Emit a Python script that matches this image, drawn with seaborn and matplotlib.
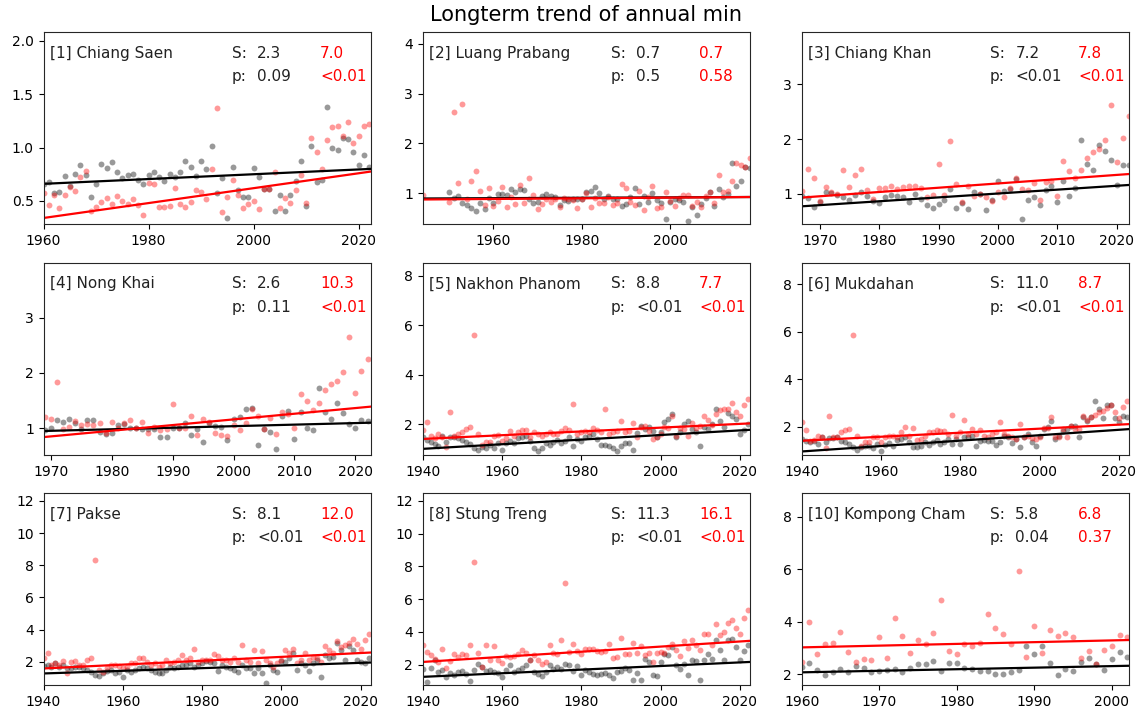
import pandas as pd
import matplotlib.pyplot as plt
from matplotlib.ticker import MultipleLocator
import seaborn as sns

# --- Datos (mínimo anual por estación) ---
# negro = serie gris, rojo = serie roja

# [1] Chiang Saen
cs_years = list(range(1960, 2023))
cs_black = [0.66, 0.68, 0.57, 0.58, 0.73, 0.64, 0.75, 0.84, 0.74, 0.54,
            0.66, 0.85, 0.81, 0.86, 0.77, 0.71, 0.74, 0.75, 0.70, 0.66,
            0.74, 0.77, 0.72, 0.69, 0.75, 0.72, 0.77, 0.87, 0.82, 0.73,
            0.87, 0.80, 1.01, 0.57, 0.71, 0.34, 0.82, 0.60, 0.54, 0.54,
            0.81, 0.72, 0.61, 0.61, 0.41, 0.56, 0.41, 0.56, 0.69, 0.87,
            0.45, 1.01, 0.68, 0.70, 1.38, 1.00, 0.98, 1.09, 1.08, 0.96,
            0.84, 0.93, 0.82]
cs_red = [0.57, 0.46, 0.56, 0.43, 0.56, 0.63, 0.59, 0.72, 0.78, 0.41,
          0.44, 0.49, 0.53, 0.47, 0.55, 0.50, 0.47, 0.52, 0.46, 0.37,
          0.67, 0.66, 0.44, 0.44, 0.45, 0.62, 0.47, 0.44, 0.49, 0.60,
          0.58, 0.52, 0.80, 1.37, 0.40, 0.54, 0.70, 0.56, 0.43, 0.47,
          0.50, 0.42, 0.61, 0.61, 0.77, 0.43, 0.53, 0.48, 0.60, 0.74,
          0.48, 1.09, 0.96, 0.80, 1.07, 1.19, 1.20, 1.11, 1.24, 1.04,
          1.11, 1.20, 1.22]

# [2] Luang Prabang
lp_years = [1944] + list(range(1950, 2019))
lp_black = [None,
            1.03, 0.91, 0.94, 0.79, 0.75, 0.69, 0.64, 0.80, 0.68, 0.91,
            0.79, 0.99, 0.99, 0.96, 1.09, 1.03, 1.09, 1.07, 0.89, 0.79,
            0.81, 0.95, 0.99, 0.95, 0.93, 0.75, 0.85, 0.84, 0.87, 0.87,
            0.89, 1.02, 1.04, 1.12, 1.00, 0.89, 0.94, 0.88, 0.88, 0.74,
            0.77, 0.93, 1.10, 0.77, 0.94, 0.81, 1.00, 0.86, 0.80, 0.48,
            0.81, 0.87, 0.85, 0.81, 0.44, 0.72, 0.55, 0.77, 0.91, 1.02,
            0.73, 1.09, 0.93, 0.99, 1.60, 1.15, 1.25, 1.52, 1.50]
lp_red = [0.97,
          0.82, 2.63, 1.21, 2.79, 0.89, 1.24, 1.45, 1.04, 0.75, 1.10,
          0.73, 0.84, 1.12, 0.71, 0.93, 0.77, 1.17, 0.79, 1.30, 0.97,
          0.67, 0.77, 0.89, 0.81, 0.87, 0.72, 0.90, 0.87, 0.85, 0.70,
          0.89, 1.00, 0.71, 0.90, 0.79, 0.80, 0.93, 0.75, 0.79, 1.19,
          1.11, 0.81, 0.75, 1.05, 0.65, 0.92, 1.14, 0.69, 0.72, 1.03,
          0.84, 0.73, 0.90, 0.97, 0.97, 0.73, 0.82, 0.71, 0.94, 1.02,
          0.79, 1.37, 1.02, 1.04, 1.24, 1.60, 1.56, 1.52, 1.70]

# [3] Chiang Khan
ck_years = list(range(1967, 2023))
ck_black = [0.95, 0.92, 0.76,
            0.85, 1.04, 1.01, 0.97, 0.94, 0.89, 0.97, 1.03, 0.95, 0.87,
            0.83, 0.94, 0.98, 0.96, 0.94, 0.85, 0.99, 0.90, 0.79, 0.74,
            0.82, 0.89, 1.09, 0.74, 0.83, 0.73, 1.04, 0.99, 0.71, 0.89,
            1.24, 1.05, 1.09, 1.27, 0.53, 0.89, 0.94, 0.80, 1.06, 1.15,
            0.84, 1.23, 0.96, 1.10, 1.98, 1.55, 1.44, 1.90, 1.79, 1.61,
            1.16, 1.52, 1.53]
ck_red = [1.05, 1.45, 1.29,
          0.87, 1.12, 1.03, 1.00, 1.43, 1.13, 1.34, 1.46, 1.06, 0.91,
          1.10, 1.10, 1.15, 1.08, 1.13, 1.15, 1.15, 1.10, 0.94, 0.97,
          1.54, 0.97, 1.96, 1.18, 0.85, 1.15, 0.95, 1.00, 0.94, 0.86,
          1.03, 0.94, 1.11, 1.29, 1.09, 1.06, 1.20, 0.89, 1.21, 1.23,
          0.96, 1.59, 1.41, 1.29, 1.44, 1.66, 1.77, 1.82, 1.98, 2.62,
          1.58, 2.02, 2.42]

# [4] Nong Khai
nk_years = list(range(1969, 2023))
nk_black = [0.97,
            1.00, 1.14, 1.12, 1.17, 1.09, 0.98, 1.14, 1.14, 0.94, 0.90,
            0.91, 1.06, 1.08, 1.00, 1.00, 0.98, 0.98, 0.98, 0.84, 0.84,
            1.01, 1.00, 1.10, 0.88, 0.98, 0.75, 1.09, 1.04, 1.03, 0.78,
            1.16, 1.21, 1.34, 1.36, 0.69, 0.98, 0.93, 0.62, 1.22, 1.31,
            0.81, 1.30, 1.01, 0.96, 1.73, 1.30, 1.16, 1.46, 1.27, 1.08,
            1.00, 1.14, 1.13]
nk_red = [1.21,
          1.17, 1.84, 0.99, 1.02, 1.13, 1.05, 1.07, 1.05, 1.10, 0.92,
          1.12, 1.00, 1.09, 1.15, 1.00, 1.12, 0.91, 1.03, 0.97, 0.99,
          1.43, 1.00, 1.00, 1.22, 0.87, 1.17, 1.12, 0.91, 0.87, 0.86,
          1.06, 0.96, 1.10, 1.34, 1.23, 0.99, 1.19, 0.90, 1.30, 1.25,
          1.01, 1.61, 1.49, 1.33, 1.46, 1.69, 1.80, 1.86, 2.02, 2.64,
          1.64, 2.04, 2.25]

# [5] Nakhon Phanom
np_years = list(range(1940, 2023))
np_black = [1.47, 1.36, 1.27, 1.20, 1.13, 1.53, 1.27, 1.47, 1.49, 1.44,
            1.36, 1.29, 1.20, 1.04, 0.96, 1.09, 1.04, 1.16, 1.04, 1.23,
            0.96, 1.24, 1.33, 1.23, 1.43, 1.47, 1.53, 1.33, 1.04, 0.93,
            1.04, 1.24, 1.16, 1.27, 1.36, 1.23, 1.33, 1.47, 1.13, 1.40,
            1.33, 1.47, 1.53, 1.60, 1.40, 1.16, 1.16, 1.13, 1.04, 0.93,
            1.11, 1.23, 1.23, 0.96, 1.63, 1.93, 1.80, 1.89, 1.73, 1.47,
            1.67, 2.07, 2.20, 2.40, 1.49, 1.67, 2.00, 2.11, 1.80, 1.67,
            1.13, 1.87, 1.80, 2.00, 2.60, 2.13, 1.87, 2.47, 2.33, 2.20,
            1.60, 1.76, 2.00]
np_red = [1.77, 2.07, 1.53, 1.43, 1.60, 1.47, 1.07, 2.51, 1.53, 1.60,
          1.69, 1.80, 1.89, 5.60, 1.60, 1.16, 1.27, 1.27, 1.53, 1.56,
          1.33, 1.43, 1.71, 1.53, 1.69, 1.77, 1.77, 1.47, 1.67, 1.60,
          1.53, 1.60, 1.67, 1.60, 1.60, 1.73, 1.84, 1.76, 2.83, 1.60,
          1.67, 1.71, 1.67, 1.84, 1.76, 1.67, 2.63, 1.60, 1.69, 1.73,
          2.13, 1.67, 1.73, 2.03, 1.47, 1.87, 1.93, 1.73, 1.40, 1.47,
          1.60, 1.87, 1.84, 2.31, 1.53, 1.84, 1.80, 1.53, 2.03, 1.83,
          1.93, 2.33, 2.16, 1.96, 2.40, 2.57, 2.60, 2.63, 2.87, 2.49,
          2.33, 2.77, 3.00]

# [6] Mukdahan
mk_years = list(range(1940, 2023))
mk_black = [1.48, 1.41, 1.37, 1.41, 1.27, 1.55, 1.34, 1.51, 1.51, 1.55,
            1.41, 1.34, 1.27, 1.13, 1.02, 1.13, 1.20, 1.20, 1.09, 1.27,
            0.96, 1.23, 1.31, 1.20, 1.45, 1.48, 1.55, 1.37, 1.13, 1.13,
            1.20, 1.37, 1.23, 1.37, 1.44, 1.27, 1.34, 1.48, 1.27, 1.48,
            1.27, 1.55, 1.55, 1.62, 1.17, 1.41, 1.44, 1.41, 1.38, 1.23,
            1.34, 1.62, 1.55, 1.30, 1.48, 1.13, 1.55, 1.69, 1.34, 1.20,
            1.62, 1.90, 1.97, 2.25, 1.48, 1.62, 1.83, 1.90, 2.04, 2.04,
            1.55, 2.42, 2.25, 2.39, 3.07, 2.74, 2.35, 2.93, 2.93, 2.35,
            2.18, 2.46, 2.39]
mk_red = [2.18, 1.86, 1.41, 1.44, 1.62, 1.55, 1.09, 2.46, 1.55, 1.58,
          1.79, 1.86, 1.90, 5.88, 1.62, 1.20, 1.34, 1.37, 1.55, 1.55,
          1.37, 1.55, 1.62, 1.62, 1.55, 1.76, 1.97, 1.62, 1.94, 1.44,
          1.48, 1.62, 1.76, 1.79, 1.87, 1.83, 1.83, 1.69, 2.50, 1.62,
          1.76, 2.29, 1.69, 1.90, 1.69, 1.86, 1.62, 1.55, 1.69, 1.76,
          2.18, 1.69, 1.62, 1.55, 1.48, 2.11, 1.55, 1.62, 1.51, 1.48,
          1.55, 1.93, 1.93, 2.39, 1.55, 1.55, 1.90, 1.58, 2.04, 1.90,
          1.90, 2.46, 2.28, 2.39, 2.49, 2.60, 2.67, 2.77, 2.91, 2.60,
          2.36, 2.81, 3.07]

# [7] Pakse
pk_years = list(range(1940, 2023))
pk_black = [1.75, 1.79, 1.69, 1.90, 1.69, 1.79, 1.59, 1.65, 1.69, 1.69,
            1.59, 1.48, 1.38, 1.21, 1.13, 1.32, 1.42, 1.48, 1.28, 1.38,
            1.07, 1.48, 1.38, 1.48, 1.59, 1.69, 1.63, 1.52, 1.38, 1.32,
            1.32, 1.48, 1.69, 1.59, 1.69, 1.79, 1.79, 1.90, 1.69, 1.79,
            1.90, 2.04, 2.00, 1.90, 1.44, 1.83, 1.69, 1.59, 1.48, 1.38,
            1.83, 1.63, 1.59, 1.28, 1.59, 1.32, 0.70, 1.79, 1.48, 1.38,
            2.04, 2.00, 2.21, 2.52, 1.52, 1.94, 1.83, 1.42, 1.90, 2.10,
            1.07, 2.41, 2.21, 2.31, 3.18, 2.72, 2.10, 2.97, 2.72, 2.10,
            2.00, 1.90, 2.21]
pk_red = [2.21, 2.56, 1.83, 1.94, 1.79, 2.04, 1.28, 2.00, 2.04, 1.79,
          1.83, 2.10, 2.27, 8.31, 1.52, 1.38, 1.65, 1.83, 1.83, 1.73,
          1.59, 1.69, 1.94, 1.90, 2.25, 2.27, 2.00, 1.83, 1.94, 1.69,
          1.79, 2.10, 1.94, 2.00, 2.10, 2.41, 2.10, 2.21, 2.83, 2.00,
          2.14, 2.10, 2.14, 2.48, 2.35, 2.10, 2.10, 2.00, 2.25, 2.00,
          3.04, 2.10, 2.00, 2.72, 1.94, 2.68, 2.10, 1.94, 1.69, 1.90,
          2.10, 2.72, 2.52, 2.77, 1.94, 2.10, 2.52, 2.10, 2.31, 2.21,
          2.00, 2.99, 2.72, 2.52, 3.30, 2.93, 3.04, 3.18, 3.45, 3.14,
          2.77, 3.35, 3.72]

# [8] Stung Treng
st_years = list(range(1940, 2023))
st_black = [1.76, 0.94, 1.80, 2.26, 1.55, 1.65, 1.25, 1.49, 1.35, 1.55,
            1.61, 1.45, 1.00, 1.65, 2.06, 1.86, 1.61, 1.69, 1.55, 1.49,
            1.25, 1.65, 2.00, 1.55, 1.65, 1.82, 1.96, 2.26, 1.55, 1.45,
            1.29, 1.55, 1.96, 1.76, 1.86, 1.71, 2.06, 1.96, 1.61, 1.90,
            1.39, 1.65, 1.55, 1.45, 1.35, 1.41, 1.49, 1.35, 1.19, 1.55,
            1.59, 1.80, 1.69, 1.04, 1.49, 1.04, 2.37, 2.16, 1.35, 1.31,
            2.16, 2.67, 2.61, 3.08, 2.00, 1.76, 2.06, 1.39, 2.26, 2.20,
            1.04, 2.26, 2.63, 2.37, 3.53, 2.88, 2.26, 3.53, 3.59, 3.08,
            2.26, 2.84, 3.18]
st_red = [3.22, 2.77, 2.57, 2.33, 2.16, 2.98, 1.82, 2.20, 2.63, 2.47,
          2.63, 2.57, 3.22, 8.27, 2.71, 1.86, 3.18, 2.26, 3.14, 2.26,
          2.12, 2.51, 2.47, 2.53, 2.67, 2.92, 2.71, 2.26, 2.61, 2.26,
          2.06, 2.16, 3.22, 2.71, 2.67, 3.53, 6.99, 2.77, 3.28, 2.84,
          2.63, 2.98, 2.98, 2.98, 2.84, 2.77, 2.84, 3.28, 2.41, 2.47,
          3.63, 2.63, 2.63, 3.32, 2.71, 3.12, 2.57, 2.71, 2.16, 2.73,
          2.77, 2.71, 3.08, 3.28, 2.88, 2.51, 3.43, 3.02, 3.49, 3.18,
          2.92, 3.89, 3.89, 3.18, 4.46, 3.83, 4.00, 4.57, 4.71, 4.24,
          3.85, 4.85, 5.32]

# [10] Kompong Cham
kc_years = list(range(1960, 2003))
kc_black = [2.29, 2.44, 2.16, 1.97, 2.10, 2.19, 2.08, 2.32, 2.25, 2.08,
            2.13, 2.16, 2.19, 2.08, 2.23, 2.39, 2.38, 2.52, 2.14, 2.44,
            2.42, 2.23, 2.20, 2.14, 2.14, 2.00, 2.00, 2.10, 2.16, 3.09,
            2.77, 3.09, 2.42, 1.97, 2.20, 2.13, 2.48, 2.63, 2.38, 2.16,
            2.58, 2.86, 2.67]
kc_red = [2.48, 4.00, 2.77, 3.15, 3.18, 3.62, 2.86, 2.48, 2.57, 2.55,
          3.41, 2.61, 4.16, 3.47, 2.82, 3.33, 3.14, 3.59, 4.83, 2.90,
          2.77, 3.14, 3.09, 3.18, 4.30, 3.75, 3.54, 3.14, 5.93, 2.67,
          3.84, 2.82, 3.71, 3.46, 3.56, 3.43, 2.61, 2.89, 2.39, 2.93,
          3.09, 3.50, 3.43]

# Tendencias: valor en el borde izquierdo y derecho del eje
trend_black = [(0.66, 0.80), (0.89, 0.92), (0.77, 1.16), (0.95, 1.10), (1.00, 1.77),
               (0.96, 1.90), (1.28, 1.96), (1.25, 2.16), (2.08, 2.33)]
trend_red = [(0.34, 0.775), (0.87, 0.92), (0.93, 1.36), (0.84, 1.39), (1.40, 2.03),
             (1.41, 2.11), (1.59, 2.58), (2.16, 3.45), (3.03, 3.31)]

stations = ["[1] Chiang Saen", "[2] Luang Prabang", "[3] Chiang Khan", "[4] Nong Khai",
            "[5] Nakhon Phanom", "[6] Mukdahan", "[7] Pakse", "[8] Stung Treng",
            "[10] Kompong Cham"]
s_black = ["2.3", "0.7", "7.2", "2.6", "8.8", "11.0", "8.1", "11.3", "5.8"]
s_red = ["7.0", "0.7", "7.8", "10.3", "7.7", "8.7", "12.0", "16.1", "6.8"]
p_black = ["0.09", "0.5", "<0.01", "0.11", "<0.01", "<0.01", "<0.01", "<0.01", "0.04"]
p_red = ["<0.01", "0.58", "<0.01", "<0.01", "<0.01", "<0.01", "<0.01", "<0.01", "0.37"]

years_all = [cs_years, lp_years, ck_years, nk_years, np_years, mk_years, pk_years, st_years, kc_years]
black_all = [cs_black, lp_black, ck_black, nk_black, np_black, mk_black, pk_black, st_black, kc_black]
red_all = [cs_red, lp_red, ck_red, nk_red, np_red, mk_red, pk_red, st_red, kc_red]

# --- Límites y ticks de cada panel ---
xlims = [(1960, 2022.3), (1944, 2018), (1967, 2022), (1968.8, 2022.5), (1940, 2022.5),
         (1940, 2022.5), (1940, 2022.5), (1940, 2022.5), (1960, 2002.2)]
ylims = [(0.28, 2.08), (0.37, 4.23), (0.44, 3.95), (0.52, 3.99), (0.76, 8.53),
         (0.82, 8.9), (0.55, 12.48), (0.74, 12.47), (1.59, 8.9)]
xstep = [20, 20, 10, 10, 20, 20, 20, 20, 10]
ystep = [0.5, 1, 1, 1, 2, 2, 2, 2, 2]

fig, axes = plt.subplots(3, 3, figsize=(11.46, 7.19), dpi=100)
fig.subplots_adjust(left=0.038, right=0.985, top=0.955, bottom=0.047,
                    wspace=0.159, hspace=0.2)

txt = dict(fontsize=11, va="center", color="#222222")

for i, ax in enumerate(axes.flat):
    df = pd.DataFrame({"year": years_all[i], "black": black_all[i], "red": red_all[i]},
                      dtype=float)
    sns.scatterplot(data=df, x="year", y="black", color="black", alpha=0.4,
                    s=18, linewidth=0, ax=ax)
    sns.scatterplot(data=df, x="year", y="red", color="red", alpha=0.4,
                    s=18, linewidth=0, ax=ax)

    tdf = pd.DataFrame({"year": list(xlims[i]), "black": list(trend_black[i]),
                        "red": list(trend_red[i])})
    sns.lineplot(data=tdf, x="year", y="black", color="black", lw=1.6, ax=ax)
    sns.lineplot(data=tdf, x="year", y="red", color="red", lw=1.6, ax=ax)

    ax.set_xlim(xlims[i])
    ax.set_ylim(ylims[i])
    ax.xaxis.set_major_locator(MultipleLocator(xstep[i]))
    ax.yaxis.set_major_locator(MultipleLocator(ystep[i]))
    ax.set_xlabel("")
    ax.set_ylabel("")
    ax.tick_params(labelsize=10)
    for sp in ax.spines.values():
        sp.set_color("#262626")

    # Etiquetas de texto
    ax.text(0.02, 0.89, stations[i], transform=ax.transAxes, **txt)
    ax.text(0.575, 0.89, "S:", transform=ax.transAxes, **txt)
    ax.text(0.653, 0.89, s_black[i], transform=ax.transAxes, **txt)
    ax.text(0.845, 0.89, s_red[i], transform=ax.transAxes, fontsize=11, va="center", color="red")
    ax.text(0.575, 0.768, "p:", transform=ax.transAxes, **txt)
    ax.text(0.653, 0.768, p_black[i], transform=ax.transAxes, **txt)
    ax.text(0.845, 0.768, p_red[i], transform=ax.transAxes, fontsize=11, va="center", color="red")

fig.text(0.5 * (0.038 + 0.985), 0.979, "Longterm trend of annual min",
         ha="center", va="center", fontsize=15)

plt.savefig("out.png", dpi=100)
